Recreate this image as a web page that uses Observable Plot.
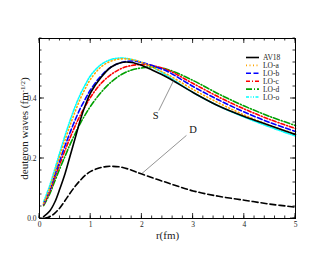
<!DOCTYPE html>
<html><head><meta charset="utf-8">
<script src="https://cdn.jsdelivr.net/npm/d3@7"></script>
<script src="https://cdn.jsdelivr.net/npm/@observablehq/plot@0.6"></script>
<style>
body{margin:0;background:#fff;}
svg{font-family:"Liberation Serif","DejaVu Serif",serif;}
</style></head><body>
<div id="chart"></div>
<script>
const rS = [0.08,0.2,0.3,0.4,0.5,0.6,0.7,0.8,0.9,1.0,1.2,1.4,1.6,1.8,2.0,2.2,2.5,3.0,3.5,4.0,4.5,5.0];
const av18 = [0.006,0.025,0.055,0.10,0.15,0.21,0.27,0.33,0.38,0.42,0.47,0.505,0.52,0.52,0.51,0.495,0.47,0.42,0.375,0.34,0.31,0.28];
const loA  = [0.05,0.10,0.155,0.21,0.262,0.312,0.358,0.40,0.435,0.465,0.505,0.525,0.532,0.53,0.52,0.505,0.48,0.43,0.385,0.345,0.31,0.282];
const loB  = [0.048,0.095,0.145,0.195,0.243,0.288,0.33,0.368,0.40,0.43,0.475,0.505,0.52,0.525,0.52,0.51,0.49,0.44,0.395,0.355,0.32,0.29];
const loC  = [0.046,0.09,0.137,0.183,0.228,0.27,0.31,0.345,0.376,0.405,0.45,0.48,0.50,0.51,0.513,0.51,0.495,0.45,0.405,0.365,0.33,0.30];
const loD  = [0.043,0.082,0.125,0.168,0.208,0.248,0.284,0.318,0.348,0.375,0.42,0.455,0.48,0.495,0.502,0.505,0.497,0.46,0.415,0.375,0.34,0.31];
const loO  = [0.055,0.11,0.165,0.222,0.277,0.328,0.375,0.415,0.448,0.477,0.513,0.53,0.535,0.53,0.52,0.505,0.475,0.42,0.375,0.338,0.305,0.275];
const rD = [0.1,0.2,0.3,0.4,0.5,0.6,0.7,0.8,0.9,1.0,1.2,1.3,1.4,1.6,1.8,2.0,2.5,3.0,3.5,4.0,4.5,5.0];
const dWave = [0.001,0.006,0.018,0.036,0.06,0.085,0.108,0.128,0.145,0.157,0.17,0.173,0.174,0.171,0.161,0.148,0.119,0.092,0.074,0.061,0.048,0.038];

const seriesNames = ["AV18","LO-a","LO-b","LO-c","LO-d","LO-o"];
const seriesColors = ["#000000","#ffa500","#0000ff","#ff0000","#00a000","#00ffff"];
const seriesDash = [null,"1,2.5","5,2.5","4,2,1,2","6,2,1,2","3,1.5,1,1.5,1,1.5"];
const seriesValues = [av18,loA,loB,loC,loD,loO];

const xTicks = [0,1,2,3,4,5];
const xTickLabels = ["0","1","2","3","4","5"];
const yTicks = [0,0.2,0.4];
const yTickLabels = ["0.0","0.2","0.4"];
const xMinor = d3.range(0,5.0001,0.2);
const yMinor = d3.range(0,0.6001,0.04);

const annotations = [
  {label:"S", x:2.27, y:0.343, x1:2.33, y1:0.36, x2:2.62, y2:0.46},
  {label:"D", x:3.0, y:0.297, x1:2.87, y1:0.277, x2:2.0, y2:0.15}
];

const rows = [];
seriesValues.forEach((vals,si)=>vals.forEach((v,i)=>rows.push({r:rS[i], u:v, s:si})));
const dRows = rD.map((r,i)=>({r, u:dWave[i]}));

const marks = [];
[5,4,3,2,1,0].forEach(si=>{
  marks.push(Plot.line(rows.filter(d=>d.s===si),{x:"r",y:"u",stroke:seriesColors[si],strokeWidth:1.6,strokeDasharray:seriesDash[si],curve:"catmull-rom"}));
});
marks.push(Plot.line(dRows,{x:"r",y:"u",stroke:"black",strokeWidth:1.6,strokeDasharray:"6,3",curve:"catmull-rom"}));
marks.push(Plot.link(annotations,{x1:"x1",y1:"y1",x2:"x2",y2:"y2",stroke:"#666",strokeWidth:0.7}));
marks.push(Plot.text(annotations,{x:"x",y:"y",text:"label",fontSize:10.5,fill:"#111",fontWeight:"normal"}));

const chart = Plot.plot({
  width:332, height:257,
  marginLeft:39, marginRight:37, marginTop:38, marginBottom:39,
  style:{fontFamily:"Liberation Serif, serif", background:"white", color:"black"},
  x:{domain:[0,5]},
  y:{domain:[0,0.6]},
  marks:[
    ...marks,
    Plot.axisX(xTicks,{anchor:"bottom",tickSize:0,tickPadding:3,fontSize:7.5,fill:"#222",tickFormat:d=>xTickLabels[xTicks.indexOf(d)],label:"r(fm)",labelAnchor:"center",labelArrow:"none",labelOffset:20}),
    Plot.axisY(yTicks,{anchor:"left",tickSize:0,tickPadding:3,fontSize:7.5,fill:"#222",tickFormat:d=>yTickLabels[yTicks.indexOf(d)],label:"deuteron waves (fm-1/2)",labelAnchor:"center",labelArrow:"none",labelOffset:19}),
    Plot.frame({stroke:"black",strokeWidth:1})
  ]
});
document.getElementById("chart").appendChild(chart);
const svg = d3.select(chart);
const sx = chart.scale("x"), sy = chart.scale("y");
const [xl, xr] = sx.range, [yb, yt] = sy.range;
// inward ticks on all four sides
const tg = svg.append("g").attr("stroke","black").attr("stroke-width",0.8);
function tickX(v,len){
  const px = sx.apply(v);
  tg.append("line").attr("x1",px).attr("x2",px).attr("y1",yb).attr("y2",yb-len);
  tg.append("line").attr("x1",px).attr("x2",px).attr("y1",yt).attr("y2",yt+len);
}
function tickY(v,len){
  const py = sy.apply(v);
  tg.append("line").attr("y1",py).attr("y2",py).attr("x1",xl).attr("x2",xl+len);
  tg.append("line").attr("y1",py).attr("y2",py).attr("x1",xr).attr("x2",xr-len);
}
xMinor.forEach(v=>tickX(v,2.5));
xTicks.forEach(v=>tickX(v,5));
yMinor.forEach(v=>tickY(v,2.5));
yTicks.forEach(v=>tickY(v,5));
// style axis labels and superscript
svg.selectAll('g[aria-label="x-axis label"] text').attr("font-size",11).attr("fill","#222");
const yl = svg.select('g[aria-label="y-axis label"] text');
yl.attr("font-size",11).attr("fill","#222").text(null);
yl.append("tspan").text("deuteron waves (fm");
yl.append("tspan").attr("font-size",7).attr("dy","-0.45em").text("-1/2");
yl.append("tspan").attr("dy","0.3em").text(")");
// legend
const lg = svg.append("g").attr("font-size",7.5).attr("font-family","Liberation Serif, serif").attr("text-anchor","start");
seriesNames.forEach((n,i)=>{
  const y = 57.5 + i*7.9;
  lg.append("line").attr("x1",246).attr("x2",259).attr("y1",y).attr("y2",y)
    .attr("stroke",seriesColors[i]).attr("stroke-width",1.6).attr("stroke-dasharray",seriesDash[i]);
  lg.append("text").attr("x",263).attr("y",y).attr("dy","0.35em").attr("fill","#222").text(n);
});
</script></body></html>
